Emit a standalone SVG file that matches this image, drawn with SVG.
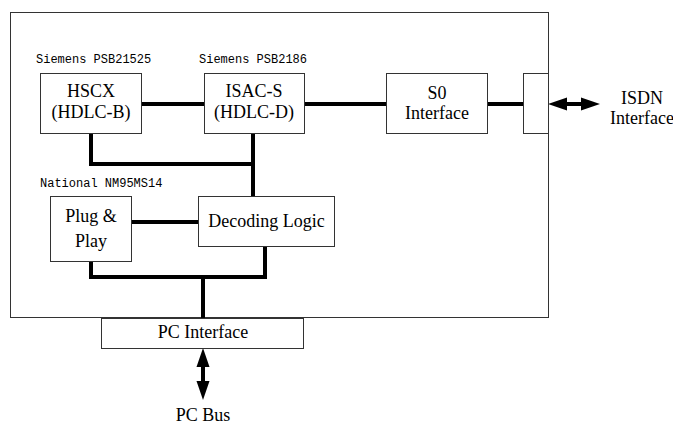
<svg xmlns="http://www.w3.org/2000/svg" width="673" height="425" viewBox="0 0 673 425" font-family="'Liberation Serif', serif">
<defs>
<style>
.box{fill:#fff;stroke:#333;stroke-width:1}
.t{font-family:"Liberation Serif",serif;font-size:18px;fill:#000;text-anchor:middle}
.m{font-family:"Liberation Mono",monospace;font-size:12px;fill:#000}
.w{fill:none;stroke:#000;stroke-width:4}
.ah{fill:#000}
</style>
</defs>
<rect width="673" height="425" fill="#fff"/>
<g id="board"><rect class="box" x="10.5" y="12.5" width="538" height="305"/></g>
<g id="connectors">
<path class="w" d="M142 104H204M305 104H386M488 104H523"/>
<path class="w" d="M91 134V164H253M253 134V196"/>
<path class="w" d="M132 222H198"/>
<path class="w" d="M91 262V277H265V247M203 277V318"/>
<path class="w" d="M563 104H585"/>
<polygon class="ah" points="548,104 567,97.5 567,110.5"/>
<polygon class="ah" points="600,104 581,97.5 581,110.5"/>
<path class="w" d="M203 364V384"/>
<polygon class="ah" points="203,348 196.5,367 209.5,367"/>
<polygon class="ah" points="203,400 196.5,381 209.5,381"/>
</g>
<g id="pc-bus"><text class="t" x="203" y="421">PC Bus</text></g>
<g id="pc-interface">
<rect class="box" x="101.5" y="318.5" width="202" height="30"/>
<text class="t" x="203" y="338">PC Interface</text>
</g>
<g id="decoding">
<rect class="box" x="198.5" y="196.5" width="136" height="50"/>
<text class="t" x="266.5" y="227">Decoding Logic</text>
</g>
<g id="pnp">
<text class="m" x="40" y="187">National NM95MS14</text>
<rect class="box" x="50.5" y="196.5" width="81" height="65"/>
<text class="t" x="91" y="222">Plug &amp;</text>
<text class="t" x="91" y="247">Play</text>
</g>
<g id="hscx">
<text class="m" x="36" y="63">Siemens PSB21525</text>
<rect class="box" x="40.5" y="73.5" width="101" height="60"/>
<text class="t" x="91" y="97">HSCX</text>
<text class="t" x="91" y="118">(HDLC-B)</text>
</g>
<g id="isac">
<text class="m" x="199" y="63">Siemens PSB2186</text>
<rect class="box" x="204.5" y="73.5" width="100" height="60"/>
<text class="t" x="254" y="97">ISAC-S</text>
<text class="t" x="254" y="118">(HDLC-D)</text>
</g>
<g id="s0">
<rect class="box" x="386.5" y="73.5" width="101" height="60"/>
<text class="t" x="437" y="99">S0</text>
<text class="t" x="437" y="119">Interface</text>
</g>
<g id="connector-box"><rect class="box" x="523.5" y="73.5" width="25" height="60"/></g>
<g id="isdn">
<text class="t" x="642" y="104">ISDN</text>
<text class="t" x="642" y="124">Interface</text>
</g>
</svg>
